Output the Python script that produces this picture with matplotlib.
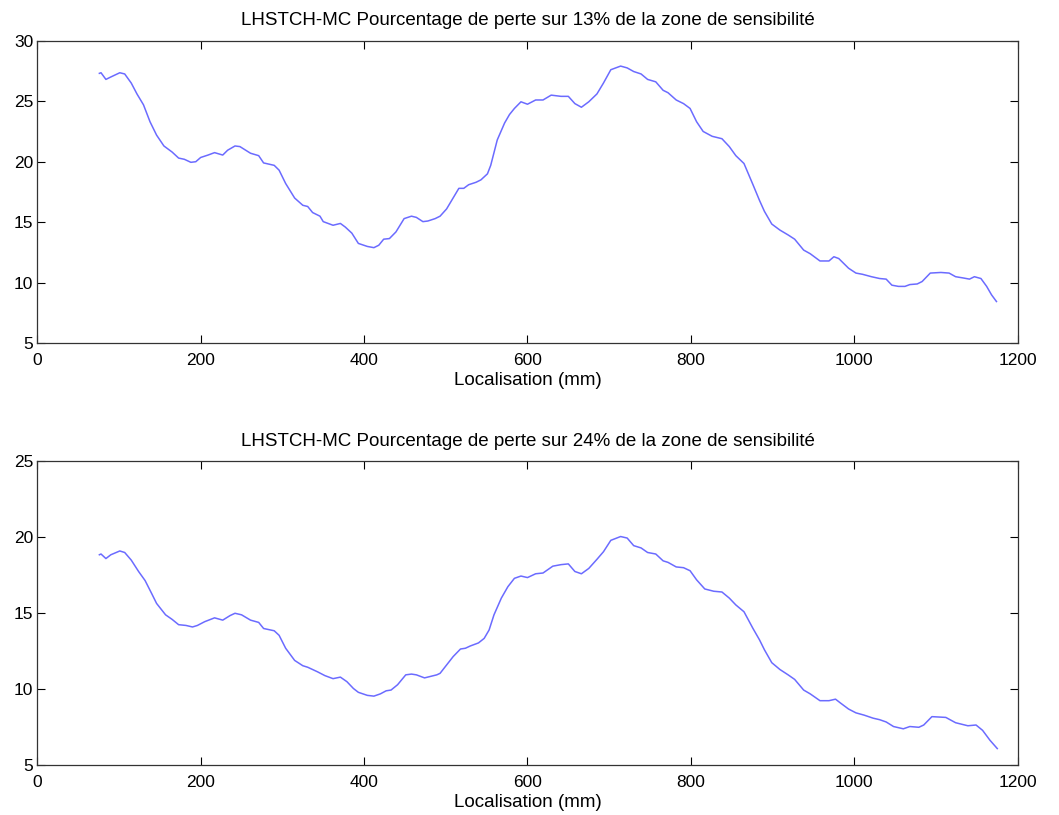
import matplotlib

matplotlib.use("Agg")
import matplotlib.pyplot as plt

plt.rcParams["font.family"] = ["Liberation Sans", "DejaVu Sans"]
plt.rcParams["font.size"] = 10

# Courbe 1 : perte sur 13 % de la zone de sensibilité
x13 = [76, 78, 84, 90, 101, 107, 115, 122, 130, 138, 146, 155, 165, 173, 180,
       188, 194, 200, 209, 217, 227, 233, 242, 248, 261, 271, 277, 290, 296,
       304, 315, 325, 331, 337, 346, 350, 362, 371, 377, 385, 393, 404, 412,
       418, 424, 431, 439, 449, 458, 464, 472, 478, 487, 493, 501, 509, 516,
       522, 528, 537, 543, 551, 555, 563, 572, 578, 584, 592, 600, 610, 619,
       629, 641, 650, 658, 666, 675, 685, 693, 702, 714, 722, 730, 739, 747,
       757, 766, 772, 782, 791, 799, 807, 815, 826, 838, 847, 855, 865, 876,
       884, 890, 899, 909, 919, 927, 938, 946, 958, 969, 975, 981, 993, 1002,
       1010, 1021, 1031, 1039, 1046, 1054, 1062, 1068, 1077, 1083, 1093, 1106,
       1116, 1124, 1133, 1141, 1147, 1155, 1162, 1168, 1174]
y13 = [27.3, 27.35, 26.8, 27.0, 27.35, 27.25, 26.5, 25.6, 24.7, 23.3, 22.2,
       21.3, 20.8, 20.3, 20.2, 19.95, 20.0, 20.35, 20.55, 20.75, 20.55, 20.95,
       21.3, 21.25, 20.7, 20.5, 19.9, 19.7, 19.3, 18.2, 17.0, 16.4, 16.3, 15.8,
       15.5, 15.05, 14.75, 14.9, 14.6, 14.1, 13.25, 13.0, 12.9, 13.1, 13.6,
       13.65, 14.2, 15.3, 15.5, 15.4, 15.05, 15.1, 15.3, 15.5, 16.1, 17.0,
       17.8, 17.8, 18.1, 18.3, 18.5, 19.0, 19.7, 21.8, 23.2, 23.9, 24.4, 24.95,
       24.75, 25.1, 25.1, 25.5, 25.4, 25.4, 24.8, 24.5, 24.95, 25.6, 26.5,
       27.6, 27.9, 27.75, 27.45, 27.25, 26.8, 26.6, 25.9, 25.7, 25.1, 24.8,
       24.4, 23.3, 22.5, 22.1, 21.9, 21.25, 20.5, 19.85, 18.1, 16.8, 15.9,
       14.85, 14.35, 13.95, 13.6, 12.7, 12.4, 11.8, 11.8, 12.15, 12.0, 11.2,
       10.8, 10.7, 10.5, 10.35, 10.3, 9.8, 9.7, 9.7, 9.85, 9.9, 10.1, 10.8,
       10.85, 10.8, 10.5, 10.4, 10.3, 10.5, 10.35, 9.7, 9.0, 8.45]

# Courbe 2 : perte sur 24 % de la zone de sensibilité
x24 = [76, 78, 84, 90, 101, 107, 115, 124, 132, 140, 146, 157, 165, 173, 182,
       190, 196, 205, 217, 227, 236, 242, 250, 261, 271, 277, 290, 296, 304,
       315, 325, 331, 343, 352, 362, 371, 379, 387, 393, 404, 412, 420, 427,
       433, 441, 451, 458, 464, 474, 489, 493, 501, 509, 518, 524, 530, 540,
       547, 553, 559, 568, 576, 584, 592, 600, 610, 619, 631, 641, 650, 658,
       666, 675, 685, 693, 702, 714, 722, 730, 739, 747, 757, 766, 772, 782,
       791, 799, 807, 817, 828, 838, 847, 855, 865, 876, 884, 890, 899, 909,
       919, 927, 938, 946, 958, 969, 977, 983, 993, 1002, 1012, 1023, 1031,
       1039, 1048, 1060, 1068, 1079, 1085, 1095, 1112, 1124, 1139, 1149, 1157,
       1166, 1175]
y24 = [18.85, 18.9, 18.6, 18.85, 19.1, 19.0, 18.5, 17.75, 17.15, 16.3, 15.65,
       14.9, 14.6, 14.25, 14.2, 14.1, 14.2, 14.45, 14.7, 14.55, 14.85, 15.0,
       14.9, 14.55, 14.4, 14.0, 13.85, 13.55, 12.7, 11.9, 11.55, 11.45, 11.15,
       10.9, 10.7, 10.8, 10.5, 10.05, 9.8, 9.6, 9.55, 9.7, 9.9, 9.95, 10.3,
       10.95, 11.0, 10.95, 10.75, 10.95, 11.05, 11.6, 12.15, 12.65, 12.7,
       12.85, 13.05, 13.35, 13.9, 14.9, 16.0, 16.75, 17.3, 17.45, 17.35, 17.6,
       17.65, 18.1, 18.2, 18.25, 17.75, 17.6, 17.95, 18.55, 19.05, 19.8, 20.05,
       19.95, 19.45, 19.3, 19.0, 18.9, 18.45, 18.35, 18.05, 18.0, 17.8, 17.2,
       16.6, 16.45, 16.4, 16.0, 15.55, 15.1, 14.0, 13.25, 12.6, 11.75, 11.3,
       10.95, 10.65, 9.95, 9.7, 9.25, 9.25, 9.35, 9.1, 8.7, 8.45, 8.3, 8.1,
       8.0, 7.85, 7.55, 7.4, 7.55, 7.5, 7.65, 8.2, 8.15, 7.8, 7.6, 7.65, 7.3,
       6.65, 6.1]

titles = [
    "LHSTCH-MC Pourcentage de perte sur 13% de la zone de sensibilité",
    "LHSTCH-MC Pourcentage de perte sur 24% de la zone de sensibilité",
]
xticks = [0, 200, 400, 600, 800, 1000, 1200]
yticks_top = [5, 10, 15, 20, 25, 30]
yticks_bot = [5, 10, 15, 20, 25]

fig = plt.figure(figsize=(10.59, 8.15), dpi=100)
ax1 = fig.add_axes([0.0352, 0.5788, 0.9258, 0.3713])
ax2 = fig.add_axes([0.0352, 0.0610, 0.9258, 0.3730])

panels = [
    (ax1, x13, y13, titles[0], yticks_top),
    (ax2, x24, y24, titles[1], yticks_bot),
]
for ax, xs, ys, title, yt in panels:
    ax.plot(xs, ys, color="#6b6bff", lw=1.1)
    ax.set_xlim(0, 1200)
    ax.set_ylim(yt[0], yt[-1])
    ax.set_xticks(xticks)
    ax.set_yticks(yt)
    ax.tick_params(direction="in", length=6, width=0.8, top=True, right=True,
                   labelsize=12.5, colors="#000000")
    ax.tick_params(axis="x", pad=7)
    ax.tick_params(axis="y", pad=3)
    for sp in ax.spines.values():
        sp.set_linewidth(0.9)
        sp.set_color("#333333")
    ax.set_title(title, fontsize=13.5, pad=11)
    ax.set_xlabel("Localisation (mm)", fontsize=13.5, labelpad=3)

fig.savefig("out.png", dpi=100, facecolor="white")
